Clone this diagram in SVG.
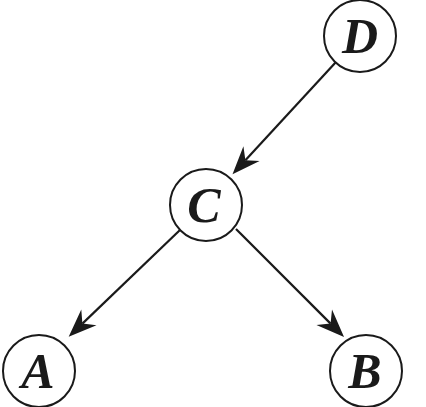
<svg xmlns="http://www.w3.org/2000/svg" width="426" height="407" viewBox="0 0 426 407">
<style>
.node circle{fill:#fff;stroke:#1a1a1a;stroke-width:2}
.node text{font-family:"Liberation Serif","Times New Roman",serif;font-weight:bold;font-style:italic;font-size:50px;fill:#1a1a1a;text-anchor:middle}
.edge{stroke:#1a1a1a;stroke-width:2.2;fill:none;marker-end:url(#ah)}
</style>
<defs>
<marker id="ah" markerUnits="userSpaceOnUse" markerWidth="32" markerHeight="26" viewBox="0 -13 30 26" refX="9" refY="0" orient="auto">
<path d="M28,0 L0,-11 L9,0 L0,11 Z" fill="#1a1a1a"/>
</marker>
</defs>
<rect width="426" height="407" fill="#fff"/>
<g id="connectors">
<path class="edge" d="M336,62 L245.4,160.2"/>
<path class="edge" d="M180,230 L82.4,323.6"/>
<path class="edge" d="M236,229 L330.6,323.6"/>
</g>
<g id="node-D" class="node"><circle cx="360" cy="36" r="36"/><text x="360" y="53">D</text></g>
<g id="node-C" class="node"><circle cx="206" cy="205" r="36"/><text x="204" y="222">C</text></g>
<g id="node-A" class="node"><circle cx="39" cy="371" r="36"/><text x="38" y="388">A</text></g>
<g id="node-B" class="node"><circle cx="366" cy="371" r="36"/><text x="365" y="388">B</text></g>
</svg>
